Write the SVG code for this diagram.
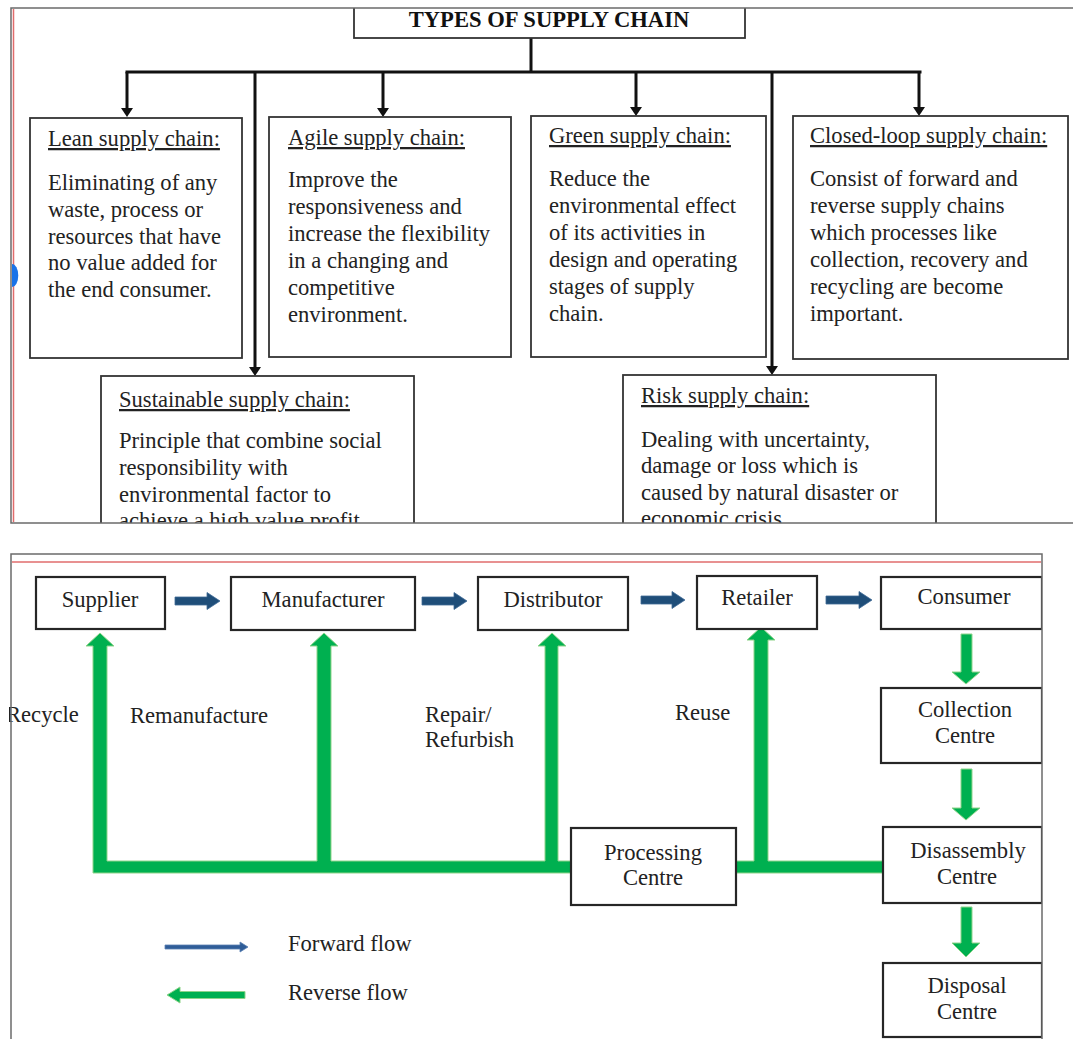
<svg xmlns="http://www.w3.org/2000/svg" width="1073" height="1039" viewBox="0 0 1073 1039">
  <defs>
    <style>
      .frame{fill:none;stroke:#6b6b6b;stroke-width:1.5}
      .red{fill:none;stroke:#e06c6c;stroke-width:1.5}
      .box{fill:#fff;stroke:#333;stroke-width:1.8}
      .box2{fill:#fff;stroke:#262626;stroke-width:2.2}
      text{font-family:"Liberation Serif","Times New Roman",serif;fill:#222;font-size:22.6px}
      .hd{text-decoration:underline}
      .title{font-weight:bold;text-anchor:middle;fill:#111}
      .c{text-anchor:middle}
      .conn{fill:none;stroke:#111;stroke-width:3}
      .fwd{fill:#1f4e79;stroke:#3f6a95;stroke-width:0.8}
      .rev{fill:#00b050;stroke:#8fd48a;stroke-width:1}
    </style>
    <marker id="ah" viewBox="0 0 9 12" refX="1" refY="6" markerWidth="9" markerHeight="12" markerUnits="userSpaceOnUse" orient="auto">
      <path d="M0,0 L9,6 L0,12 Z" fill="#111"/>
    </marker>
    <clipPath id="clipTop"><rect x="11" y="8" width="1062" height="515"/></clipPath>
    <clipPath id="clipBottom"><rect x="9" y="554" width="1033" height="485"/></clipPath>
  </defs>

  <rect width="1073" height="1039" fill="#fff"/>

  <!-- Upper panel: types of supply chain -->
  <g id="types-panel" clip-path="url(#clipTop)">
    <g id="connectors-top">
      <path class="conn" d="M531,38 V72"/>
      <path class="conn" d="M127,72 H920" stroke-linecap="square"/>
      <path class="conn" d="M127,72 V109" marker-end="url(#ah)"/>
      <path class="conn" d="M383,72 V109" marker-end="url(#ah)"/>
      <path class="conn" d="M636,72 V108" marker-end="url(#ah)"/>
      <path class="conn" d="M919,72 V108" marker-end="url(#ah)"/>
      <path class="conn" d="M255,72 V368" marker-end="url(#ah)"/>
      <path class="conn" d="M772,72 V367" marker-end="url(#ah)"/>
    </g>

    <g id="title">
      <rect class="box" x="354" y="-10" width="391" height="48"/>
      <text class="title" x="549" y="27">TYPES OF SUPPLY CHAIN</text>
    </g>

    <g id="lean">
      <rect class="box" x="30" y="118" width="212" height="240"/>
      <text class="hd" x="48" y="146">Lean supply chain:</text>
      <text x="48" y="190">Eliminating of any</text>
      <text x="48" y="217">waste, process or</text>
      <text x="48" y="243.5">resources that have</text>
      <text x="48" y="270">no value added for</text>
      <text x="48" y="297">the end consumer.</text>
    </g>

    <g id="agile">
      <rect class="box" x="269" y="117" width="242" height="240"/>
      <text class="hd" x="288" y="145">Agile supply chain:</text>
      <text x="288" y="187">Improve the</text>
      <text x="288" y="214">responsiveness and</text>
      <text x="288" y="241">increase the flexibility</text>
      <text x="288" y="268">in a changing and</text>
      <text x="288" y="295">competitive</text>
      <text x="288" y="322">environment.</text>
    </g>

    <g id="green">
      <rect class="box" x="531" y="116" width="235" height="241"/>
      <text class="hd" x="549" y="143">Green supply chain:</text>
      <text x="549" y="186">Reduce the</text>
      <text x="549" y="213">environmental effect</text>
      <text x="549" y="240">of its activities in</text>
      <text x="549" y="267">design and operating</text>
      <text x="549" y="294">stages of supply</text>
      <text x="549" y="321">chain.</text>
    </g>

    <g id="closed-loop">
      <rect class="box" x="793" y="116" width="275" height="243"/>
      <text class="hd" x="810" y="143">Closed-loop supply chain:</text>
      <text x="810" y="186">Consist of forward and</text>
      <text x="810" y="213">reverse supply chains</text>
      <text x="810" y="240">which processes like</text>
      <text x="810" y="267">collection, recovery and</text>
      <text x="810" y="294">recycling are become</text>
      <text x="810" y="321">important.</text>
    </g>

    <g id="sustainable">
      <rect class="box" x="101" y="376" width="313" height="200"/>
      <text class="hd" x="119" y="407">Sustainable supply chain:</text>
      <text x="119" y="448">Principle that combine social</text>
      <text x="119" y="475">responsibility with</text>
      <text x="119" y="502">environmental factor to</text>
      <text x="119" y="528">achieve a high value profit</text>
    </g>

    <g id="risk">
      <rect class="box" x="623" y="375" width="313" height="200"/>
      <text class="hd" x="641" y="403">Risk supply chain:</text>
      <text x="641" y="447">Dealing with uncertainty,</text>
      <text x="641" y="473">damage or loss which is</text>
      <text x="641" y="500">caused by natural disaster or</text>
      <text x="641" y="526">economic crisis.</text>
    </g>
  </g>

  <!-- Upper panel frame -->
  <g id="types-frame">
    <path class="frame" d="M1073,8 H11 V523 H1073"/>
    <path class="red" d="M13.5,9 V522"/>
    <path d="M12,264 A6,11 0 0 1 12,287 Z" fill="#1a73e8"/>
  </g>

  <!-- Lower panel: forward and reverse flows -->
  <g id="flow-panel" clip-path="url(#clipBottom)">
    <g id="connectors-bottom">
      <!-- forward flow -->
      <path class="fwd" d="M175,597 H207 V592.5 L220,601 L207,609.5 V605 H175 Z"/>
      <path class="fwd" d="M422,597 H454 V592.5 L467,601 L454,609.5 V605 H422 Z"/>
      <path class="fwd" d="M641,596 H672 V591.5 L685,600 L672,608.5 V604 H641 Z"/>
      <path class="fwd" d="M826,596 H859 V591.5 L872,600 L859,608.5 V604 H826 Z"/>
      <!-- reverse flow -->
      <path class="rev" d="M961,634 H972 V672 H980 L966,684 L952,672 H961 Z"/>
      <path class="rev" d="M961,769 H972 V808 H980 L966,820 L952,808 H961 Z"/>
      <path class="rev" d="M961,907 H972 V943 H980 L966,957 L952,943 H961 Z"/>
      <path class="rev" d="M93,873 H571 V861 H558 V646 H566 L552,633 L538,646 H545 V861 H331 V646 H338 L324,633 L310,646 H317 V861 H107 V646 H114 L100,633 L86,646 H93 Z"/>
      <path class="rev" d="M736,873 H883 V861 H768 V640 H775 L761,627 L747,640 H754 V861 H736 Z"/>
    </g>

    <g id="supplier">
      <rect class="box2" x="36" y="577" width="129" height="52"/>
      <text class="c" x="100" y="607">Supplier</text>
    </g>
    <g id="manufacturer">
      <rect class="box2" x="231" y="577" width="184" height="53"/>
      <text class="c" x="323" y="607">Manufacturer</text>
    </g>
    <g id="distributor">
      <rect class="box2" x="478" y="577" width="150" height="53"/>
      <text class="c" x="553" y="607">Distributor</text>
    </g>
    <g id="retailer">
      <rect class="box2" x="697" y="576" width="120" height="53"/>
      <text class="c" x="757" y="605">Retailer</text>
    </g>
    <g id="consumer">
      <rect class="box2" x="881" y="577" width="161" height="52"/>
      <text class="c" x="964" y="604">Consumer</text>
    </g>
    <g id="collection">
      <rect class="box2" x="881" y="688" width="161" height="75"/>
      <text class="c" x="965" y="717">Collection</text>
      <text class="c" x="965" y="743">Centre</text>
    </g>
    <g id="disassembly">
      <rect class="box2" x="883" y="827" width="159" height="76"/>
      <text class="c" x="968" y="858">Disassembly</text>
      <text class="c" x="967" y="884">Centre</text>
    </g>
    <g id="disposal">
      <rect class="box2" x="883" y="963" width="159" height="74"/>
      <text class="c" x="967" y="993">Disposal</text>
      <text class="c" x="967" y="1019">Centre</text>
    </g>
    <g id="processing">
      <rect class="box2" x="571" y="828" width="165" height="77"/>
      <text class="c" x="653" y="860">Processing</text>
      <text class="c" x="653" y="885">Centre</text>
    </g>

    <g id="flow-labels">
      <text x="6" y="722">Recycle</text>
      <text x="130" y="723">Remanufacture</text>
      <text x="425" y="722">Repair/</text>
      <text x="425" y="747">Refurbish</text>
      <text x="675" y="720">Reuse</text>
    </g>

    <g id="legend">
      <path d="M165,945 H240 V942 L248,947 L240,952 V949 H165 Z" fill="#2f5d98" stroke="#5a80b3" stroke-width="0.8" stroke-linejoin="round"/>
      <text x="288" y="951">Forward flow</text>
      <path class="rev" d="M245,991.5 V998.5 H180 V1003 L167,995 L180,987 V991.5 Z"/>
      <text x="288" y="1000">Reverse flow</text>
    </g>
  </g>

  <!-- Lower panel frame -->
  <g id="flow-frame">
    <path class="frame" d="M11,1039 V554 H1042 V1039"/>
    <path class="red" d="M12,562 H1041"/>
  </g>
</svg>
